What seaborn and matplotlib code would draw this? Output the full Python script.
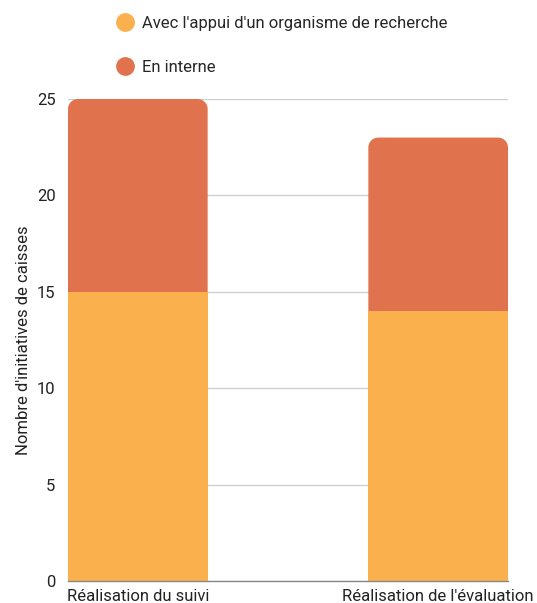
import matplotlib
matplotlib.use("Agg")
import matplotlib.pyplot as plt
import seaborn as sns
import pandas as pd
import numpy as np
from matplotlib.path import Path
from matplotlib.patches import PathPatch
from matplotlib.lines import Line2D

categories = ["Réalisation du suivi", "Réalisation de l'évaluation"]
avec_appui = [15, 14]
en_interne = [10, 9]
series_labels = ["Avec l'appui d'un organisme de recherche", "En interne"]
colors = ["#FBB04E", "#E0734E"]
yticks = [0, 5, 10, 15, 20, 25]

sns.set_theme(style="white")
plt.rcParams['font.family'] = ['Roboto', 'DejaVu Sans']

df = pd.DataFrame({"cat": categories, "bottom": avec_appui,
                   "total": np.array(avec_appui) + np.array(en_interne)})

fig = plt.figure(figsize=(5.37, 6.03), dpi=100)
ax = fig.add_axes([68/537, 22/603, 440/537, 482/603])

bw = 0.465
sns.barplot(data=df, x="cat", y="total", color=colors[1], width=bw, ax=ax,
            saturation=1, zorder=2)
top_patches = list(ax.patches)

ax.set_xlim(-bw/2, 1 + bw/2)
ax.set_ylim(0, 25)

# round top corners of the total bars
rx = 10 / 300.0
ry = 10 / (482 / 25.0)
for p in top_patches:
    x0, w, h = p.get_x(), p.get_width(), p.get_height()
    x1 = x0 + w
    t = np.linspace(0, np.pi/2, 12)
    verts = [(x0, 0), (x1, 0), (x1, h - ry)]
    for a in t:
        verts.append((x1 - rx + rx*np.cos(a), h - ry + ry*np.sin(a)))
    for a in t:
        verts.append((x0 + rx - rx*np.sin(a), h - ry + ry*np.cos(a)))
    verts.append((x0, 0))
    codes = [Path.MOVETO] + [Path.LINETO]*(len(verts)-2) + [Path.CLOSEPOLY]
    pp = PathPatch(Path(verts, codes), facecolor=colors[1], edgecolor="none", zorder=2)
    p.remove()
    ax.add_patch(pp)

sns.barplot(data=df, x="cat", y="bottom", color=colors[0], width=bw, ax=ax,
            saturation=1, zorder=3)
for p in ax.patches:
    p.set_edgecolor("none")

ax.set_xlim(-bw/2, 1 + bw/2)
ax.set_ylim(0, 25)
ax.set_yticks(yticks)
ax.set_yticklabels([str(v) for v in yticks])
ax.yaxis.grid(True, color="#cccccc", linewidth=0.9, zorder=0)
ax.set_axisbelow(True)
for s in ["top", "right", "left"]:
    ax.spines[s].set_visible(False)
ax.spines["bottom"].set_color("#888888")
ax.spines["bottom"].set_linewidth(1.0)
ax.spines["bottom"].set_zorder(5)
ax.tick_params(axis="both", length=0, labelsize=12, colors="#222222")
ax.tick_params(axis="y", pad=9)
ax.tick_params(axis="x", pad=6)
ax.set_xlabel("")
ax.set_ylabel("Nombre d'initiatives de caisses", fontsize=12, color="#222222", labelpad=4)

handles = [Line2D([0], [0], marker="o", linestyle="none", markersize=12.5,
                  markerfacecolor=c, markeredgecolor=c) for c in colors]
fig.legend(handles, series_labels, loc="upper left",
           bbox_to_anchor=(115/537, 1 - 16/603), frameon=False,
           fontsize=12, labelspacing=1.75, handletextpad=0.4,
           handlelength=1.2, borderaxespad=0, borderpad=0)

fig.savefig("out.png", dpi=100)
